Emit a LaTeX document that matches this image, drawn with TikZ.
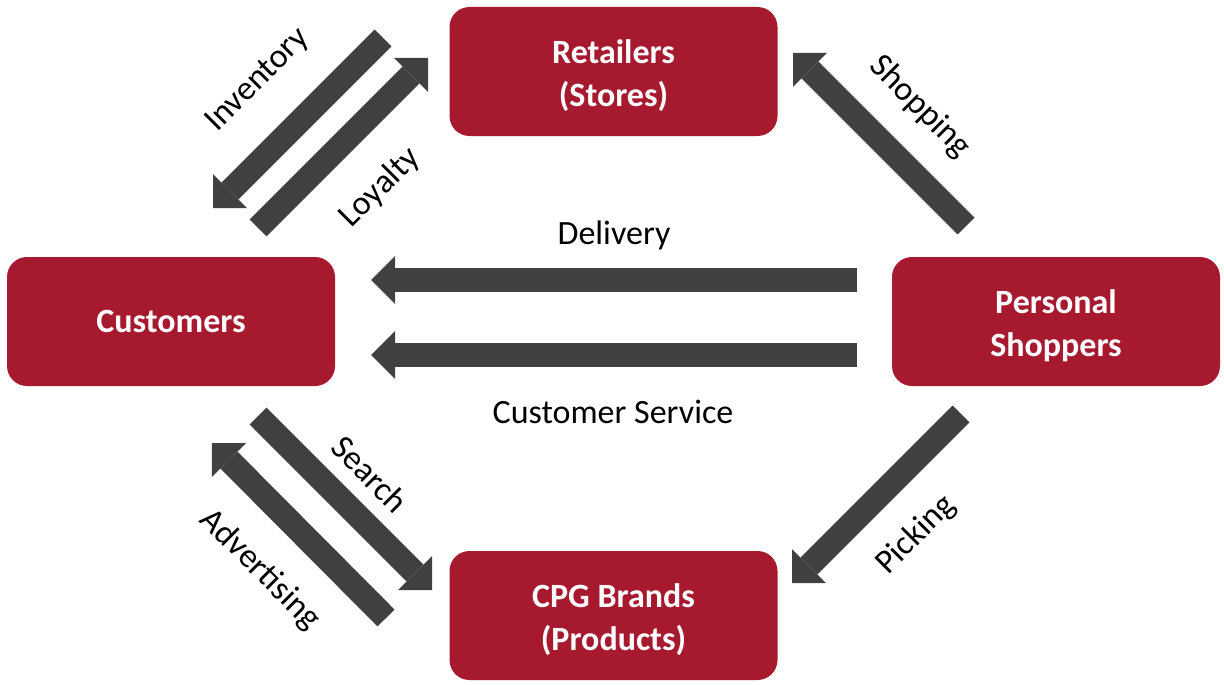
\documentclass[tikz,border=0pt]{standalone}
\usepackage{fontspec}
\setmainfont{Carlito}
\usetikzlibrary{arrows.meta}
\definecolor{crim}{HTML}{A6192E}
\definecolor{arrgray}{HTML}{404040}
\newcommand{\boxstrut}{\rule{0pt}{33pt}}
\begin{document}
\begin{tikzpicture}[x=1pt,y=-1pt,
  box/.style={rectangle, rounded corners=20pt, fill=crim, text=white,
    font=\bfseries\fontsize{34}{43}\selectfont, minimum width=328pt,
    minimum height=129pt, align=center, inner sep=0pt},
  flow/.style={draw=arrgray, line width=24pt,
    -{Triangle[length=24pt,width=48pt,line width=0pt]}},
  lbl/.style={font=\fontsize{34}{41}\selectfont, text=black, inner sep=0pt}]
\useasboundingbox (0,0) rectangle (1224,685);
\node[box] (ret) at (613.5,71.5) {\boxstrut Retailers\\(Stores)};
\node[box] (cus) at (171,321.5) {Customers};
\node[box] (ps) at (1056,321.5) {\boxstrut Personal\\Shoppers};
\node[box] (cpg) at (613.5,615.5) {\boxstrut CPG Brands\\(Products)};
% arrow end points
\coordinate (delS) at (857,280);
\coordinate (delE) at (371,280);
\coordinate (csS) at (857,355);
\coordinate (csE) at (371,355);
\coordinate (invS) at (383,38);
\coordinate (invE) at (213,208);
\coordinate (loyS) at (258,228);
\coordinate (loyE) at (428,58);
\coordinate (shoS) at (966,226);
\coordinate (shoE) at (793,53);
\coordinate (picS) at (961,414);
\coordinate (picE) at (792,583);
\coordinate (seaS) at (258,416);
\coordinate (seaE) at (432,590);
\coordinate (advS) at (386,618);
\coordinate (advE) at (212,443);
\draw[flow] (delS) -- (delE);
\draw[flow] (csS) -- (csE);
\draw[flow] (invS) -- (invE);
\draw[flow] (loyS) -- (loyE);
\draw[flow] (shoS) -- (shoE);
\draw[flow] (picS) -- (picE);
\draw[flow] (seaS) -- (seaE);
\draw[flow] (advS) -- (advE);
% labels
\node[lbl] (tdel) at (614,235) {Delivery};
\node[lbl] (tcs) at (613,412) {Customer Service};
\node[lbl, rotate=45] (tinv) at (258,80) {Inventory};
\node[lbl, rotate=45] (tloy) at (380,188) {Loyalty};
\node[lbl, rotate=-45] (tsho) at (920,107) {Shopping};
\node[lbl, rotate=45] (tpic) at (916,535) {Picking};
\node[lbl, rotate=-45] (tsea) at (370,474) {Search};
\node[lbl, rotate=-45] (tadv) at (260,570) {Advertising};
\end{tikzpicture}
\end{document}
